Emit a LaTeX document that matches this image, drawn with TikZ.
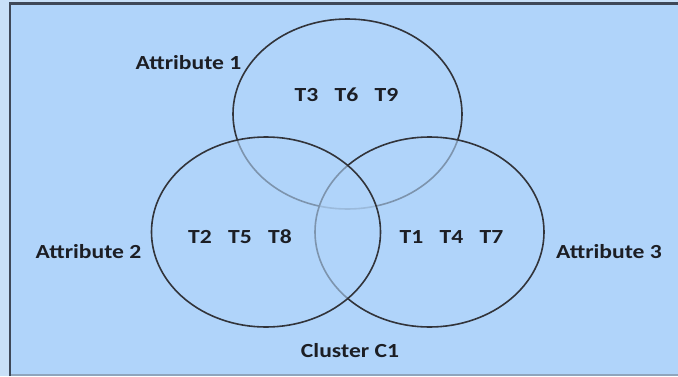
\documentclass[tikz,border=0pt]{standalone}
\usepackage{fontspec}
\newfontfamily\labelfont{Carlito}[FakeStretch=1.18]
\usetikzlibrary{calc}

\definecolor{skyfill}{RGB}{176,212,250}
\definecolor{skyedge}{RGB}{200,224,248}
\definecolor{frameline}{RGB}{62,72,88}
\definecolor{framelow}{RGB}{143,165,189}
\definecolor{ringline}{RGB}{50,52,58}
\definecolor{inkblack}{RGB}{28,30,36}

\tikzset{
  ring/.style={draw=ringline, line width=1.2pt},
  veil/.style={fill=skyfill, fill opacity=0.6},
  lbl/.style={font=\labelfont\bfseries\fontsize{15}{18}\selectfont, text=inkblack, inner sep=0pt}
}

\begin{document}
\begin{tikzpicture}[x=0.75pt, y=0.75pt]

  % parameters (pixels)
  \def\rx{114.5}   % horizontal radius
  \def\ry{95}      % vertical radius

  % canvas and frame
  \useasboundingbox (0,0) rectangle (678,376);
  \fill[skyedge] (0,0) rectangle (678,376);
  \fill[skyfill] (10,1.5) rectangle (678,372.5);
  \draw[framelow, line width=1pt] (10,1) -- (678,1);
  \draw[frameline, line width=1.6pt] (10,0) -- (10,372.5) -- (678,372.5);

  % circle centres
  \coordinate (A1) at (347.5,262);
  \coordinate (A2) at (266,144);
  \coordinate (A3) at (429.5,144);

  % circles (later ones veil the earlier outlines)
  \draw[ring] (A1) ellipse ({\rx} and {\ry});
  \path[veil] (A3) ellipse ({\rx} and {\ry});
  \draw[ring] (A3) ellipse ({\rx} and {\ry});
  \path[veil] (A2) ellipse ({\rx} and {\ry});
  \draw[ring] (A2) ellipse ({\rx} and {\ry});

  % attribute names
  \node[lbl] (attr1) at (188.5,313) {Attribute 1};
  \node[lbl] (attr2) at (88.5,124) {Attribute 2};
  \node[lbl] (attr3) at (609,124) {Attribute 3};
  \node[lbl] (cluster) at (350,25) {Cluster C1};

  % members of each attribute
  \foreach \t [count=\i] in {3,6,9}
    \node[lbl] (t\t) at ({346.5+(\i-2)*40},281) {T\t};
  \foreach \t [count=\i] in {2,5,8}
    \node[lbl] (t\t) at ({240+(\i-2)*40},139) {T\t};
  \foreach \t [count=\i] in {1,4,7}
    \node[lbl] (t\t) at ({451.5+(\i-2)*40},139) {T\t};

\end{tikzpicture}
\end{document}
